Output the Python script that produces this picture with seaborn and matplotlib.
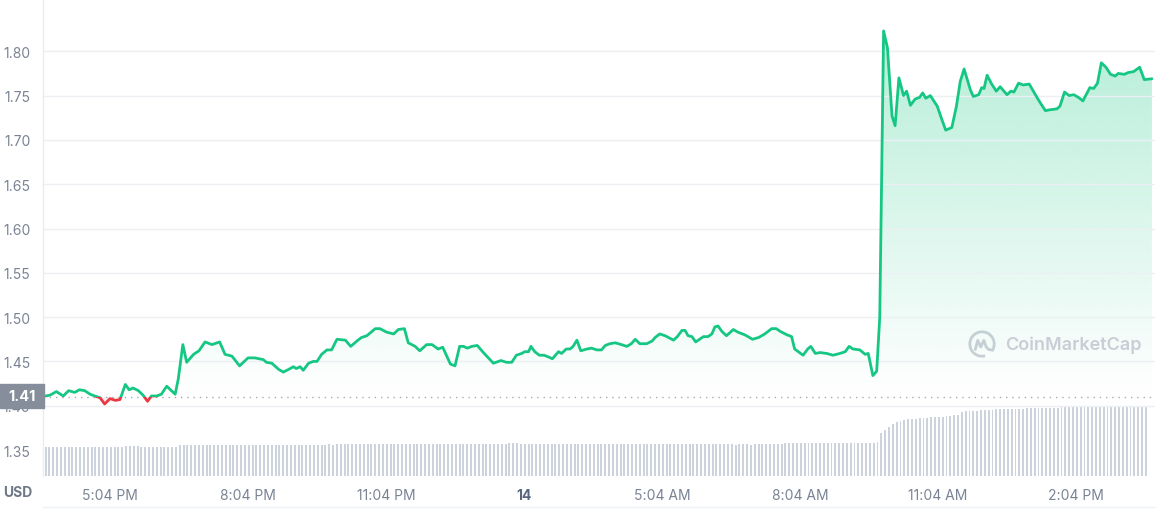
import numpy as np
import matplotlib.pyplot as plt
import matplotlib.colors as mcolors
import seaborn as sns
from matplotlib.patches import Rectangle, PathPatch, Arc
from matplotlib.path import Path
from matplotlib.lines import Line2D

# Price (USD) - time in minutes after 15:40 on the 13th
price_minutes = [
    0, 6, 14, 23, 30, 38, 44, 51, 58, 64, 71, 77, 84, 91, 97,
    104, 109, 114, 121, 127, 133, 138, 145, 151, 158, 164, 169, 173, 179, 184,
    193, 200, 208, 217, 227, 234, 243, 253, 264, 273, 284, 288, 295, 304, 310,
    317, 323, 327, 332, 336, 343, 349, 354, 360, 367, 373, 380, 391, 398, 406,
    412, 419, 430, 436, 445, 454, 460, 468, 473, 482, 488, 497, 504, 512, 518,
    528, 534, 540, 545, 550, 556, 563, 571, 584, 594, 601, 608, 614, 621, 625,
    630, 633, 638, 644, 650, 656, 661, 669, 673, 679, 684, 688, 693, 698, 706,
    712, 719, 725, 730, 736, 743, 751, 758, 764, 769, 775, 784, 791, 795, 801,
    808, 819, 824, 830, 834, 838, 843, 848, 853, 858, 864, 869, 873, 877, 882,
    888, 897, 903, 912, 922, 930, 938, 947, 953, 958, 967, 973, 977, 988, 994,
    998, 1004, 1010, 1019, 1027, 1036, 1043, 1048, 1053, 1062, 1069, 1073, 1079, 1084, 1088,
    1093, 1098, 1104, 1108, 1113, 1119, 1123, 1128, 1134, 1140, 1144, 1148, 1154, 1163, 1169,
    1174, 1182, 1188, 1193, 1198, 1206, 1210, 1217, 1221, 1224, 1228, 1234, 1240, 1245, 1254,
    1259, 1263, 1269, 1275, 1283, 1293, 1298, 1304, 1310, 1319, 1323, 1329, 1335, 1341, 1347,
    1353, 1362, 1367, 1372, 1377, 1383, 1389, 1395, 1399, 1407, 1412, 1419, 1427, 1433, 1443,
]
price_usd = [
    1.411, 1.412, 1.416, 1.411, 1.417, 1.415, 1.418, 1.417, 1.413, 1.411, 1.409, 1.402, 1.408, 1.406, 1.407,
    1.424, 1.418, 1.420, 1.417, 1.412, 1.405, 1.411, 1.411, 1.413, 1.422, 1.417, 1.413, 1.430, 1.469, 1.449,
    1.458, 1.462, 1.472, 1.469, 1.472, 1.458, 1.456, 1.445, 1.454, 1.454, 1.452, 1.449, 1.448, 1.441, 1.438,
    1.441, 1.444, 1.442, 1.444, 1.440, 1.448, 1.450, 1.450, 1.458, 1.463, 1.463, 1.475, 1.474, 1.467, 1.473,
    1.477, 1.479, 1.487, 1.487, 1.483, 1.481, 1.486, 1.487, 1.471, 1.467, 1.462, 1.469, 1.469, 1.464, 1.466,
    1.447, 1.445, 1.467, 1.467, 1.465, 1.467, 1.468, 1.460, 1.448, 1.451, 1.449, 1.449, 1.457, 1.459, 1.461,
    1.461, 1.467, 1.461, 1.457, 1.457, 1.455, 1.453, 1.461, 1.459, 1.464, 1.464, 1.467, 1.474, 1.462, 1.464,
    1.465, 1.463, 1.463, 1.468, 1.470, 1.471, 1.469, 1.467, 1.470, 1.475, 1.470, 1.470, 1.473, 1.477, 1.481,
    1.479, 1.474, 1.478, 1.485, 1.485, 1.479, 1.478, 1.472, 1.475, 1.478, 1.478, 1.481, 1.489, 1.490, 1.484,
    1.479, 1.486, 1.483, 1.480, 1.475, 1.477, 1.481, 1.487, 1.487, 1.484, 1.480, 1.478, 1.464, 1.457, 1.464,
    1.467, 1.459, 1.460, 1.459, 1.457, 1.459, 1.461, 1.467, 1.464, 1.463, 1.458, 1.459, 1.434, 1.439, 1.500,
    1.823, 1.804, 1.727, 1.716, 1.770, 1.750, 1.755, 1.739, 1.746, 1.748, 1.753, 1.747, 1.750, 1.738, 1.723,
    1.711, 1.714, 1.738, 1.766, 1.780, 1.757, 1.749, 1.751, 1.759, 1.758, 1.773, 1.763, 1.755, 1.760, 1.751,
    1.755, 1.754, 1.764, 1.762, 1.763, 1.748, 1.741, 1.733, 1.734, 1.735, 1.738, 1.754, 1.750, 1.751, 1.748,
    1.744, 1.759, 1.758, 1.764, 1.787, 1.782, 1.774, 1.772, 1.775, 1.774, 1.776, 1.777, 1.782, 1.768, 1.769,
]
open_price = 1.41

# 24h volume bars, one every 5 minutes (relative units)
vol_minutes = list(range(0, 1440, 5))
volume = [
    58.6, 58.4, 58.6, 58.6, 58.2, 58.6, 58.8, 58.6, 58.4, 58.6, 58.6, 58.8, 58.6, 58.4, 58.6, 58.6, 58.8, 58.6, 58.4, 58.6, 58.8, 59.4, 60.2, 60.0,
    59.6, 59.0, 58.8, 58.8, 59.0, 58.8, 58.6, 58.6, 57.6, 57.2, 57.8, 61.2, 61.4, 61.4, 61.6, 61.4, 61.4, 61.6, 61.4, 61.6, 61.8, 61.6, 61.6, 61.8,
    62.6, 62.8, 62.6, 62.4, 62.6, 62.0, 61.8, 62.0, 62.0, 61.8, 62.0, 62.2, 62.0, 61.8, 62.0, 62.2, 62.0, 62.0, 62.2, 62.0, 62.4, 62.2, 62.4, 62.2,
    62.8, 63.0, 63.2, 63.0, 63.2, 63.4, 63.2, 63.2, 63.4, 63.2, 63.4, 63.2, 63.6, 63.4, 63.4, 63.2, 63.4, 63.6, 63.4, 63.6, 63.4, 63.2, 63.4, 63.6,
    63.8, 64.0, 63.8, 64.0, 64.2, 64.0, 64.0, 64.2, 64.0, 63.8, 64.0, 64.2, 64.0, 64.2, 64.4, 64.2, 64.0, 64.2, 64.4, 64.2, 64.4, 64.6, 64.4, 64.6,
    64.8, 65.4, 66.2, 65.6, 65.0, 64.8, 64.8, 64.6, 64.8, 64.6, 64.6, 64.8, 64.6, 64.4, 64.6, 64.8, 64.6, 64.8, 64.6, 64.8, 65.0, 64.8, 64.8, 65.0,
    64.8, 64.6, 64.8, 65.0, 64.8, 64.6, 64.8, 64.8, 65.0, 64.8, 64.6, 64.8, 65.0, 64.8, 64.6, 64.4, 64.6, 64.8, 64.6, 64.4, 64.6, 64.4, 64.6, 64.4,
    64.2, 64.0, 63.8, 63.6, 63.8, 63.6, 63.4, 63.6, 63.4, 63.2, 63.4, 63.2, 63.0, 63.2, 63.4, 63.2, 63.0, 63.2, 63.4, 63.6, 63.8, 64.0, 64.2, 64.4,
    64.8, 65.2, 65.8, 66.2, 66.4, 66.6, 66.4, 66.6, 66.8, 66.6, 66.8, 66.6, 66.4, 66.6, 66.8, 66.6, 66.8, 67.0, 66.8, 66.6, 66.8, 67.0, 66.8, 67.0,
    67.0, 67.2, 86.0, 92.0, 98.0, 103.0, 107.0, 110.0, 112.0, 113.0, 114.0, 114.6, 115.4, 116.0, 116.4, 117.0, 117.6, 118.0, 118.6, 119.2, 120.0, 122.0, 122.6, 128.0,
    129.4, 129.6, 130.0, 130.4, 131.0, 131.6, 132.0, 132.6, 133.0, 133.4, 133.6, 134.0, 134.2, 134.4, 134.6, 134.8, 135.0, 135.2, 135.4, 135.6, 135.8, 136.0, 136.2, 136.4,
    136.8, 137.0, 137.2, 137.6, 138.0, 138.4, 138.8, 139.0, 139.2, 139.4, 139.6, 139.4, 138.0, 137.4, 137.6, 137.4, 137.2, 137.4, 137.6, 137.4, 137.2, 137.4, 137.6, 137.4,
]

# Axis labels
tick_minutes = [84, 264, 444, 624, 804, 984, 1164, 1344]
tick_labels = ["5:04 PM", "8:04 PM", "11:04 PM", "14", "5:04 AM", "8:04 AM", "11:04 AM", "2:04 PM"]
y_ticks = [1.35, 1.40, 1.45, 1.50, 1.55, 1.60, 1.65, 1.70, 1.75, 1.80]

GREEN = "#16c784"
RED = "#ea3943"
LABEL = "#7a8394"

sns.set_style("white")
plt.rcParams["font.family"] = ["Inter", "DejaVu Sans"]

W, H = 1163, 510
fig = plt.figure(figsize=(W / 100, H / 100), dpi=100)
ax = fig.add_axes([43 / W, 33 / H, 1112 / W, 477 / H])
ax2 = ax.twinx()
ax.set_zorder(ax2.get_zorder() + 1)
ax.patch.set_visible(False)

x_lo, x_hi = -3.4, 1447
y_lo, y_hi = 1.3207, 1.859

# Volume bars
sns.barplot(x=vol_minutes, y=volume, native_scale=True, color="#cdd3dd", saturation=1,
            width=0.5, errorbar=None, linewidth=0, ax=ax2)
ax2.set_ylim(0, 954)
ax2.set_yticks([])
ax2.set_ylabel("")
for s in ax2.spines.values():
    s.set_visible(False)

# Gridlines
for lvl in y_ticks[1:]:
    ax.axhline(lvl, color="#eceff3", lw=1, zorder=1.5)

# Gradient fill above the opening price
fill = ax.fill_between(price_minutes, price_usd, open_price, color="none", lw=0)
clip = PathPatch(Path.make_compound_path(*fill.get_paths()), transform=ax.transData,
                 facecolor="none", edgecolor="none")
ax.add_patch(clip)
grad = np.zeros((256, 1, 4))
grad[..., :3] = mcolors.to_rgb(GREEN)
grad[..., 3] = np.linspace(0.0, 0.32, 256)[:, None]
img = ax.imshow(grad, extent=[x_lo, x_hi, open_price, 1.83], origin="lower",
                aspect="auto", zorder=1, interpolation="bilinear")
img.set_clip_path(clip)
pr = np.array(price_usd)
ax.fill_between(price_minutes, price_usd, open_price, where=pr < open_price,
                interpolate=True, color=RED, alpha=0.08, lw=0, zorder=1)

# Opening price reference
ax.axhline(open_price, color="#a3aab6", lw=1, ls=(0, (1, 3.5)), zorder=2)

# Price line: green above open, red below
sns.lineplot(x=price_minutes, y=price_usd, color=GREEN, lw=2, estimator=None, sort=False, ax=ax, zorder=3)
green_line = ax.lines[-1]
sns.lineplot(x=price_minutes, y=price_usd, color=RED, lw=2, estimator=None, sort=False, ax=ax, zorder=3)
red_line = ax.lines[-1]
green_line.set_clip_path(Rectangle((x_lo, open_price), x_hi - x_lo, 1, transform=ax.transData))
red_line.set_clip_path(Rectangle((x_lo, open_price - 1), x_hi - x_lo, 1, transform=ax.transData))

ax.set_xlim(x_lo, x_hi)
ax.set_ylim(y_lo, y_hi)
ax.set_xlabel("")
ax.set_ylabel("")

ax.set_yticks(y_ticks, [f"{v:.2f}" for v in y_ticks])
ax.set_xticks(tick_minutes, tick_labels)
ax.tick_params(axis="y", length=0, pad=9, labelsize=10, labelcolor=LABEL)
ax.tick_params(axis="x", length=4, width=1, color="#a0a7b3", pad=5, labelsize=10, labelcolor=LABEL)
for lab in ax.get_xticklabels():
    if lab.get_text() == "14":
        lab.set_fontweight("bold")
        lab.set_color("#58667e")

for side in ["top", "right", "bottom"]:
    ax.spines[side].set_visible(False)
ax.spines["left"].set_color("#e8ebef")
ax.spines["left"].set_linewidth(1)

# Current price tag (sits over the 1.40 label, as in the original)
fig.add_artist(Rectangle((0, (H - 409) / H), 44 / W, 24 / H, transform=fig.transFigure,
                         color="#878e9b", zorder=10))
fig.text(22 / W, (H - 397) / H, "1.41", color="white", fontweight="bold", fontsize=10.5,
         ha="center", va="center", zorder=11)

fig.text(3 / W, (H - 493) / H, "USD", color="#6f7888", fontweight="bold", fontsize=10,
         ha="left", va="center")

fig.add_artist(Line2D([43 / W, 1155 / W], [2 / H, 2 / H], color="#eff2f5", lw=1))

# Watermark
fig.text(1005 / W, (H - 345) / H, "CoinMarketCap", color="#c9ced6", fontsize=13,
         fontweight="semibold", ha="left", va="center")
lax = fig.add_axes([968 / W, (H - 359) / H, 28 / W, 28 / H])
lax.set_xlim(-1.15, 1.15)
lax.set_ylim(-1.15, 1.15)
lax.axis("off")
lax.add_patch(Arc((0, 0), 2, 2, theta1=-35, theta2=285, color="#cdd1d8", lw=2))
lax.plot([-0.55, -0.35, -0.1, 0.15, 0.35, 0.55, 0.85],
         [-0.45, 0.3, -0.25, 0.3, -0.25, -0.45, -0.5], color="#cdd1d8", lw=2,
         solid_capstyle="round", solid_joinstyle="round")

plt.savefig("out.png", dpi=100)
